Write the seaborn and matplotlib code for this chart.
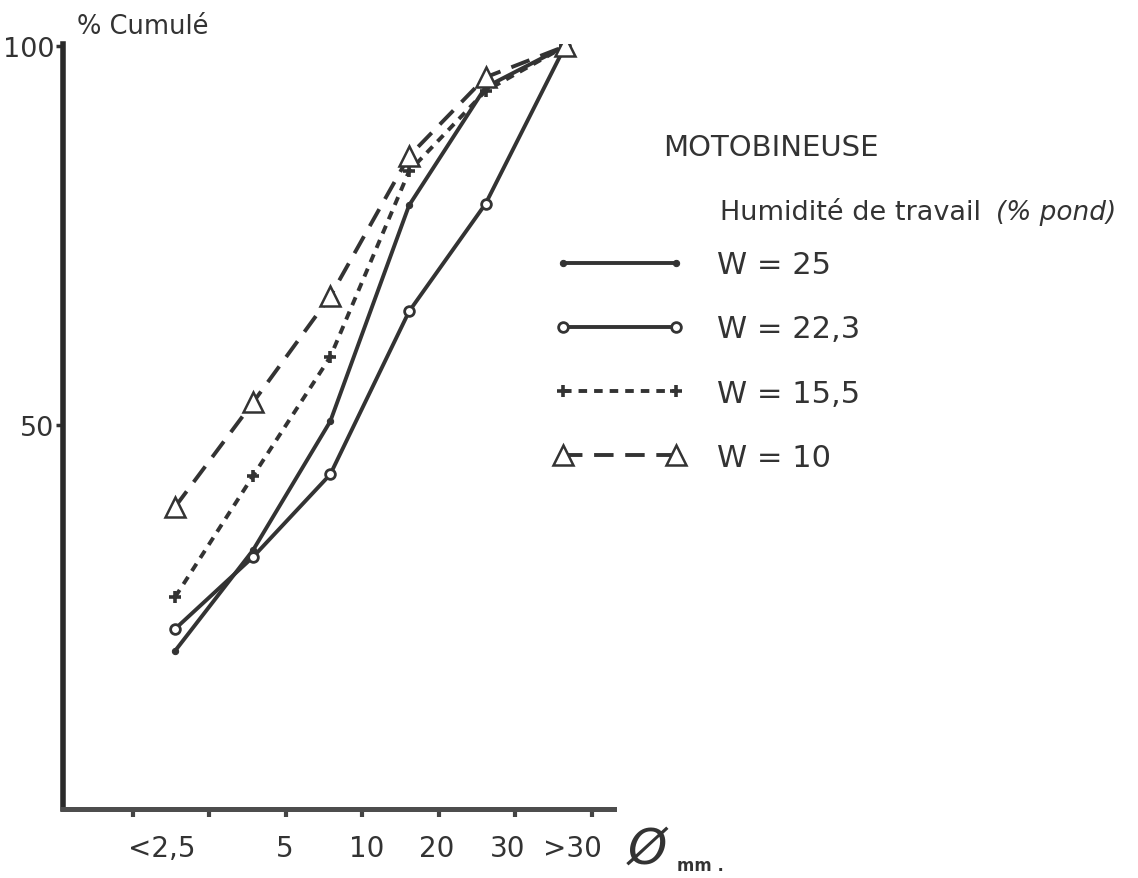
import matplotlib
matplotlib.use("Agg")
import matplotlib.pyplot as plt
import seaborn as sns
import pandas as pd

# Size classes of the clods (mm) and where each class is plotted on the axis
class_labels = ["<2,5", "5", "10", "20", "30", ">30"]
label_pos = [1.38, 2.99, 4.06, 4.97, 5.90, 6.75]
tick_pos = [1, 2, 3, 4, 5, 6, 7]
class_pos = [1.55, 2.57, 3.58, 4.61, 5.61, 6.65]

# Cumulative percentage for each working moisture W (% by weight)
w25 = [20.2, 33.5, 50.5, 79.0, 94.6, 100]
w22_3 = [23.1, 32.6, 43.5, 65.0, 79.2, 100]
w15_5 = [27.3, 43.3, 59.0, 83.5, 94.1, 100]
w10 = [39.2, 53.0, 67.0, 85.5, 95.9, 100]

series_names = ["W = 25", "W = 22,3", "W = 15,5", "W = 10"]
series_values = [w25, w22_3, w15_5, w10]

sns.set_theme(style="white")
plt.rcParams["font.family"] = ["DejaVu Sans"]

INK = "#333333"

df = pd.concat(
    [pd.DataFrame({"classe": class_pos, "cumul": vals, "W": name})
     for name, vals in zip(series_names, series_values)],
    ignore_index=True,
)

fig = plt.figure(figsize=(11.38, 8.79), dpi=100)
ax = fig.add_axes([63 / 1138, 1 - 810 / 879, (614 - 63) / 1138, (810 - 45) / 879])

styles = {
    "W = 25": dict(marker="o", markersize=4.5, markerfacecolor=INK,
                   markeredgecolor=INK, linestyle="-"),
    "W = 22,3": dict(marker="o", markersize=7, markerfacecolor="white",
                     markeredgecolor=INK, markeredgewidth=2, linestyle="-"),
    "W = 15,5": dict(marker="+", markersize=9, markeredgewidth=2.6,
                     markeredgecolor=INK, linestyle=(0, (2.2, 1.8))),
    "W = 10": dict(marker="^", markersize=15, markerfacecolor="white",
                   markeredgecolor=INK, markeredgewidth=1.8,
                   linestyle=(0, (5.0, 3.0))),
}

for name in series_names:
    sub = df[df["W"] == name]
    sns.lineplot(data=sub, x="classe", y="cumul", ax=ax, color=INK,
                 linewidth=2.8, sort=False, label=name, **styles[name])

ax.set_xlim(0.085, 7.29)
ax.set_ylim(-0.66, 100.3)
ax.set_xlabel("")
ax.set_ylabel("")

for side in ("top", "right"):
    ax.spines[side].set_visible(False)
ax.spines["left"].set_linewidth(4.0)
ax.spines["left"].set_color("#2a2a2a")
ax.spines["bottom"].set_linewidth(3.6)
ax.spines["bottom"].set_color("#4d4d4d")

# Major ticks mark the class limits; minor ticks carry the class labels
ax.set_xticks(tick_pos)
ax.set_xticklabels([])
ax.set_xticks(label_pos, minor=True)
ax.set_xticklabels(class_labels, minor=True, fontsize=20, color=INK)
ax.tick_params(axis="x", which="major", direction="out", length=6, width=3,
               color="#444444", bottom=True)
ax.tick_params(axis="x", which="minor", length=0, pad=18)

ax.set_yticks([50, 100])
ax.set_yticklabels(["50", "100"], fontsize=19.5, color=INK)
ax.tick_params(axis="y", direction="out", length=5, width=2.5,
               color=INK, left=True, pad=1)

ax.legend(loc="center left", bbox_to_anchor=(554 / 1138, 1 - 362 / 879),
          bbox_transform=fig.transFigure, frameon=False, numpoints=2,
          fontsize=22, handlelength=4.3, handletextpad=1.05,
          labelspacing=1.15, borderpad=0, borderaxespad=0,
          labelcolor=INK)

fig.text(77 / 1138, 1 - 27 / 879, "% Cumulé", fontsize=18.5, color=INK,
         va="center", ha="left")
fig.text(663 / 1138, 1 - 148 / 879, "MOTOBINEUSE", fontsize=21, color=INK,
         va="center", ha="left")
fig.text(720 / 1138, 1 - 213 / 879, "Humidité de travail", fontsize=19.5,
         color=INK, va="center", ha="left")
fig.text(996 / 1138, 1 - 213 / 879, "(% pond)", fontsize=19, color=INK,
         va="center", ha="left", fontstyle="italic")
fig.text(628 / 1138, 1 - 850 / 879, "Ø", fontsize=36, color=INK,
         va="center", ha="left", fontstyle="italic")
fig.text(677 / 1138, 1 - 866 / 879, "mm .", fontsize=12, color=INK,
         va="center", ha="left", fontweight="bold")

fig.savefig("out.png", dpi=100, facecolor="white")
